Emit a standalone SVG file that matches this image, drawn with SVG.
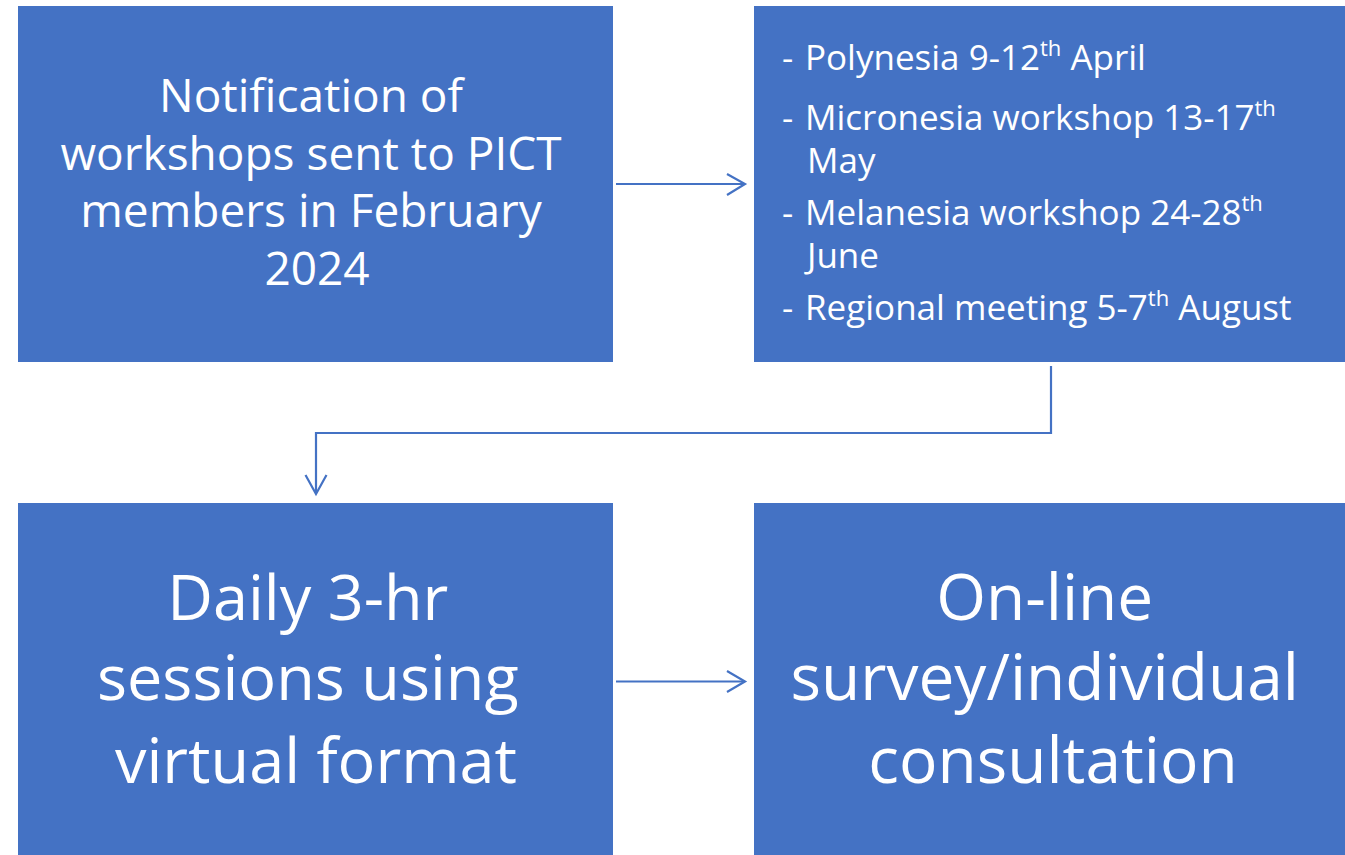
<svg xmlns="http://www.w3.org/2000/svg" width="1345" height="855" viewBox="0 0 1345 855">
<style>
.box{fill:#4472C4;}
.t{fill:#fff;font-family:"Open Sans","Liberation Sans",sans-serif;text-anchor:middle;}
.l{fill:#fff;font-family:"Open Sans","Liberation Sans",sans-serif;font-size:35px;}
.s{font-size:22px;}
.c{fill:none;stroke:#4472C4;stroke-width:2.2;}
</style>
<rect width="1345" height="855" fill="#fff"/>
<g id="n1">
<rect class="box" x="18" y="6" width="595" height="356"/>
<text class="t" font-size="46">
<tspan x="317" y="112">Notification of</tspan>
<tspan x="317" y="170">workshops sent to PICT</tspan>
<tspan x="317" y="227">members in February</tspan>
<tspan x="317" y="285">2024</tspan>
</text>
</g>
<g id="n2">
<rect class="box" x="754" y="6" width="600" height="356"/>
<text class="l"><tspan x="782" y="70">- </tspan><tspan x="805" y="70">Polynesia 9-12</tspan><tspan class="s" dy="-14">th</tspan><tspan dy="14"> April</tspan></text>
<text class="l"><tspan x="782" y="130">- </tspan><tspan x="805" y="130">Micronesia workshop 13-17</tspan><tspan class="s" dy="-14">th</tspan></text>
<text class="l"><tspan x="807" y="173">May</tspan></text>
<text class="l"><tspan x="782" y="225">- </tspan><tspan x="805" y="225">Melanesia workshop 24-28</tspan><tspan class="s" dy="-14">th</tspan></text>
<text class="l"><tspan x="807" y="268">June</tspan></text>
<text class="l"><tspan x="782" y="320">- </tspan><tspan x="805" y="320">Regional meeting 5-7</tspan><tspan class="s" dy="-14">th</tspan><tspan dy="14"> August</tspan></text>
</g>
<g id="n3">
<rect class="box" x="18" y="503" width="595" height="352"/>
<text class="t" font-size="63">
<tspan x="316" y="620">Daily 3-hr</tspan>
<tspan x="316" y="700">sessions using</tspan>
<tspan x="316" y="783">virtual format</tspan>
</text>
</g>
<g id="n4">
<rect class="box" x="754" y="503" width="600" height="352"/>
<text class="t" font-size="64">
<tspan x="1053" y="620">On-line</tspan>
<tspan x="1053" y="700">survey/individual</tspan>
<tspan x="1053" y="783">consultation</tspan>
</text>
</g>
<g id="connectors">
<path class="c" d="M616 184 H744"/>
<path class="c" d="M727 174 L745 184 L727 195"/>
<path class="c" d="M1051 366 V433 H316 V493"/>
<path class="c" d="M305.5 475 L316 494 L326.5 475"/>
<path class="c" d="M616 681.5 H744"/>
<path class="c" d="M727 671 L745 681.5 L727 692"/>
</g>
</svg>
